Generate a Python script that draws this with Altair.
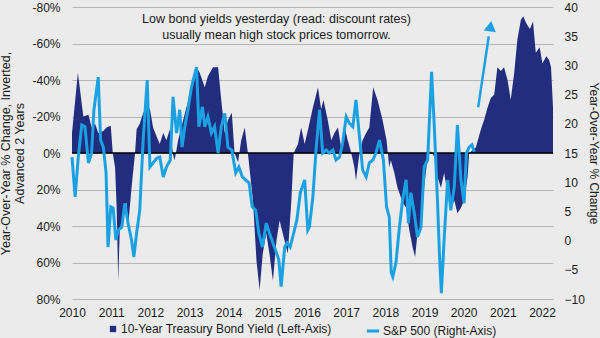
import altair as alt
import pandas as pd

NAVY = "#222d7d"
BLUE = "#1ba1e2"
BG = "#ebebeb"
GRID = "#b5b5b5"
FONT = "Liberation Sans"
TXT = "#1a1a1a"

# 10-Year Treasury yield, YoY % change, inverted, advanced 2 years (left axis)
bond_year = [2010.00, 2010.15, 2010.29, 2010.42, 2010.50, 2010.59, 2010.67, 2010.80, 2010.88, 2010.99,
             2011.04, 2011.10, 2011.14, 2011.18, 2011.22, 2011.31, 2011.39, 2011.43, 2011.52, 2011.61,
             2011.65, 2011.73, 2011.82, 2011.94, 2011.99, 2012.07, 2012.16, 2012.24, 2012.33, 2012.41,
             2012.50, 2012.58, 2012.62, 2012.71, 2012.79, 2012.92, 2013.09, 2013.18, 2013.26, 2013.39,
             2013.47, 2013.60, 2013.73, 2013.81, 2013.90, 2013.98, 2014.08, 2014.15, 2014.24, 2014.32,
             2014.41, 2014.49, 2014.62, 2014.71, 2014.79, 2014.87, 2014.96, 2015.04, 2015.13, 2015.22,
             2015.30, 2015.38, 2015.51, 2015.60, 2015.66, 2015.77, 2015.85, 2015.94, 2016.06, 2016.15,
             2016.28, 2016.36, 2016.42, 2016.53, 2016.62, 2016.70, 2016.79, 2016.87, 2016.96, 2017.04,
             2017.13, 2017.21, 2017.25, 2017.34, 2017.42, 2017.51, 2017.59, 2017.69, 2017.80, 2017.93,
             2018.03, 2018.10, 2018.14, 2018.23, 2018.31, 2018.44, 2018.53, 2018.61, 2018.70, 2018.76,
             2018.82, 2018.91, 2018.99, 2019.08, 2019.16, 2019.25, 2019.33, 2019.42, 2019.50, 2019.59,
             2019.67, 2019.76, 2019.84, 2019.93, 2020.01, 2020.10, 2020.14, 2020.31, 2020.44, 2020.52,
             2020.61, 2020.69, 2020.78, 2020.86, 2020.95, 2021.03, 2021.12, 2021.20, 2021.29, 2021.37,
             2021.46, 2021.52, 2021.60, 2021.69, 2021.77, 2021.84, 2021.94, 2022.01, 2022.11, 2022.18,
             2022.23, 2022.28]
bond_val = [-11, -44, -20, -21, -14, -16, -11, -12, -14, -15,
            0, 8, 30, 70, 42, 33, 27, 41, 19, 0,
            -13, -16, -22, -25, -24, -14, -9, -5, -11, -7,
            -13, 1, 4, -7, -14, -25, -38, -47, -44, -36,
            -42, -47, -47, -29, -11, -18, -22, 0, 5, -7,
            -14, 0, 26, 59, 75, 55, 44, 55, 70, 48,
            37, 44, 55, 26, 0, -5, -14, -5, -16, -25,
            -36, -24, -29, -18, -7, -11, -14, -3, -14, -7,
            0, 8, 15, 0, -7, -11, -14, -36, -29, -18,
            -7, 8, 4, 11, 19, 27, 30, 42, 52, 57,
            44, 42, 19, 2, -1, 2, 13, 19, 11, 22,
            30, 26, 33, 30, 26, 13, 0, -3, -13, -18,
            -25, -30, -32, -47, -45, -47, -40, -29, -44, -62,
            -73, -75, -71, -68, -72, -55, -58, -49, -53, -51,
            -47, -25]

# S&P 500 YoY % change (right axis)
spx_year = [2010.00, 2010.08, 2010.16, 2010.25, 2010.33, 2010.42, 2010.50, 2010.56, 2010.67, 2010.73,
            2010.80, 2010.87, 2010.92, 2010.99, 2011.05, 2011.12, 2011.18, 2011.27, 2011.35, 2011.43,
            2011.52, 2011.58, 2011.65, 2011.73, 2011.82, 2011.92, 2011.99, 2012.07, 2012.16, 2012.24,
            2012.33, 2012.41, 2012.51, 2012.58, 2012.67, 2012.75, 2012.81, 2012.88, 2012.96, 2013.05,
            2013.18, 2013.24, 2013.33, 2013.39, 2013.47, 2013.56, 2013.64, 2013.73, 2013.81, 2013.90,
            2013.98, 2014.08, 2014.11, 2014.18, 2014.26, 2014.35, 2014.43, 2014.52, 2014.60, 2014.69,
            2014.77, 2014.86, 2014.96, 2015.04, 2015.13, 2015.22, 2015.28, 2015.34, 2015.43, 2015.49,
            2015.57, 2015.66, 2015.74, 2015.83, 2015.94, 2016.02, 2016.06, 2016.15, 2016.23, 2016.32,
            2016.40, 2016.49, 2016.57, 2016.66, 2016.74, 2016.83, 2016.91, 2017.00, 2017.08, 2017.17,
            2017.25, 2017.34, 2017.42, 2017.51, 2017.59, 2017.68, 2017.76, 2017.85, 2017.95, 2018.03,
            2018.10, 2018.15, 2018.19, 2018.27, 2018.36, 2018.44, 2018.53, 2018.59, 2018.65, 2018.74,
            2018.82, 2018.91, 2018.99, 2019.08, 2019.18, 2019.25, 2019.33, 2019.38, 2019.43, 2019.50,
            2019.59, 2019.67, 2019.76, 2019.84, 2019.93, 2020.01, 2020.07, 2020.14, 2020.21, 2020.27]
spx_val = [14.3, 7.5, 14.3, 19.8, 19.5, 13.3, 15.0, 22.4, 28.0, 17.2,
           16.0, 11.6, -1.1, 5.8, 5.6, 0.1, 1.8, 2.3, 6.4, 3.0,
           0.1, -2.8, 1.3, 5.2, 17.7, 27.5, 12.6, 13.3, 14.1, 14.3,
           10.9, 12.6, 13.8, 24.6, 18.4, 22.4, 16.0, 19.5, 22.4, 26.3,
           29.7, 19.5, 22.9, 19.5, 21.2, 18.4, 19.5, 15.0, 19.5, 21.8,
           16.0, 15.5, 14.3, 11.6, 12.6, 10.9, 10.4, 9.9, 5.8, 5.2,
           1.3, -1.1, 3.0, 1.3, -0.4, -2.1, -3.3, -7.9, -1.1, -0.4,
           -1.1, 1.3, 3.5, 8.2, 10.4, 1.8, 2.3, 7.5, 15.5, 22.4,
           15.0, 15.5, 15.0, 15.5, 13.8, 14.3, 16.7, 21.2, 20.1, 19.5,
           24.1, 17.7, 12.1, 10.9, 13.3, 13.8, 15.0, 17.2, 13.8, 5.8,
           4.0, -5.5, -6.2, -3.8, 2.3, 7.0, 10.4, 3.0, 8.2, 4.7,
           0.6, 2.3, 12.6, 13.8, 28.9, 19.5, 7.0, -2.1, -9.0, 0.1,
           10.4, 5.2, 9.2, 19.8, 10.4, 6.4, 15.0, 16.0, 16.4, 15.2]

years = list(range(2010, 2023))
left_ticks = list(range(-80, 81, 20))
right_ticks = list(range(-10, 41, 5))
note_lines = ["Low bond yields yesterday (read: discount rates)",
              "usually mean high stock prices tomorrow."]
bond_name = "10-Year Treasury Bond Yield (Left-Axis)"
spx_name = "S&P 500 (Right-Axis)"

bond = pd.DataFrame({"year": bond_year, "v": bond_val, "series": bond_name})
spx = pd.DataFrame({"year": spx_year, "chg": spx_val, "series": spx_name})
note = pd.DataFrame({"year": [2015.22, 2015.22], "v": [-73.5, -64.5], "t": note_lines})
arrow = pd.DataFrame({"year": [2020.37], "v": [-25], "year2": [2020.64], "v2": [-64]})
head = pd.DataFrame({"year": [2020.685], "v": [-69.5]})
zero = pd.DataFrame({"v": [0]})

xenc = alt.X("year:Q",
             scale=alt.Scale(domain=[2010, 2022.28], nice=False, zero=False),
             axis=alt.Axis(values=years, format="d", grid=False, domain=False, ticks=False,
                           tickSize=0, labelPadding=8, title=None, labelFlush=False))

def lscale():
    return alt.Scale(domain=[-80, 80], reverse=True, nice=False)

area = alt.Chart(bond).mark_area(opacity=1).encode(
    x=xenc,
    y=alt.Y("v:Q", scale=lscale(),
            axis=alt.Axis(values=left_ticks, labelExpr="datum.value + '%'", grid=True,
                          gridColor=GRID, gridWidth=1, domain=False, ticks=False, tickSize=0,
                          labelPadding=12,
                          title=["Year-Over-Year % Change, Inverted,", "Advanced 2 Years"],
                          titlePadding=5, titleLineHeight=14)),
    color=alt.Color("series:N", scale=alt.Scale(range=[NAVY]),
                    legend=alt.Legend(orient="none", legendX=35, legendY=316, title=None,
                                      symbolType="square", symbolSize=40, padding=0,
                                      labelOffset=2, labelFontSize=12, labelFont=FONT,
                                      labelColor=TXT, symbolStrokeWidth=0, labelLimit=0)),
)

zrule = alt.Chart(zero).mark_rule(color="black", strokeWidth=1.5).encode(
    y=alt.Y("v:Q", scale=lscale(), axis=None))

line = alt.Chart(spx).mark_line(strokeWidth=3).encode(
    x=xenc,
    y=alt.Y("chg:Q", scale=alt.Scale(domain=[-10, 40], nice=False),
            axis=alt.Axis(orient="right", values=right_ticks, grid=False, domain=False,
                          ticks=False, tickSize=0, labelPadding=11,
                          title="Year-Over-Year % Change", titlePadding=2,
                          titleFontSize=12)),
    color=alt.Color("series:N", scale=alt.Scale(range=[BLUE]),
                    legend=alt.Legend(orient="none", legendX=293, legendY=316, title=None,
                                      symbolType="stroke", symbolSize=150, symbolStrokeWidth=3,
                                      padding=0, labelOffset=2, labelFontSize=12,
                                      labelFont=FONT, labelColor=TXT, labelLimit=0)),
)

arr = alt.Chart(arrow).mark_rule(color=BLUE, strokeWidth=2.5).encode(
    x=xenc, x2="year2:Q",
    y=alt.Y("v:Q", scale=lscale(), axis=None), y2="v2:Q")

arrhead = alt.Chart(head).mark_point(shape="triangle-up", filled=True, size=150, angle=8,
                                     color=BLUE, opacity=1).encode(
    x=xenc, y=alt.Y("v:Q", scale=lscale(), axis=None))

text = alt.Chart(note).mark_text(font=FONT, fontSize=12.5, color=TXT).encode(
    x=xenc, y=alt.Y("v:Q", scale=lscale(), axis=None), text="t:N")

chart = alt.layer(area, zrule, line, arr, arrhead, text).resolve_scale(
    y="independent", color="independent"
).properties(
    width=481, height=292, autosize="none",
    padding={"left": 72, "top": 7, "right": 47, "bottom": 39},
    background=BG,
).configure_view(stroke=None).configure_axis(
    labelFont=FONT, titleFont=FONT, labelFontSize=12, titleFontSize=12.5,
    labelColor=TXT, titleColor=TXT, titleFontWeight="normal"
)

chart.save("out.html", embed_options={"renderer": "svg", "actions": False})
